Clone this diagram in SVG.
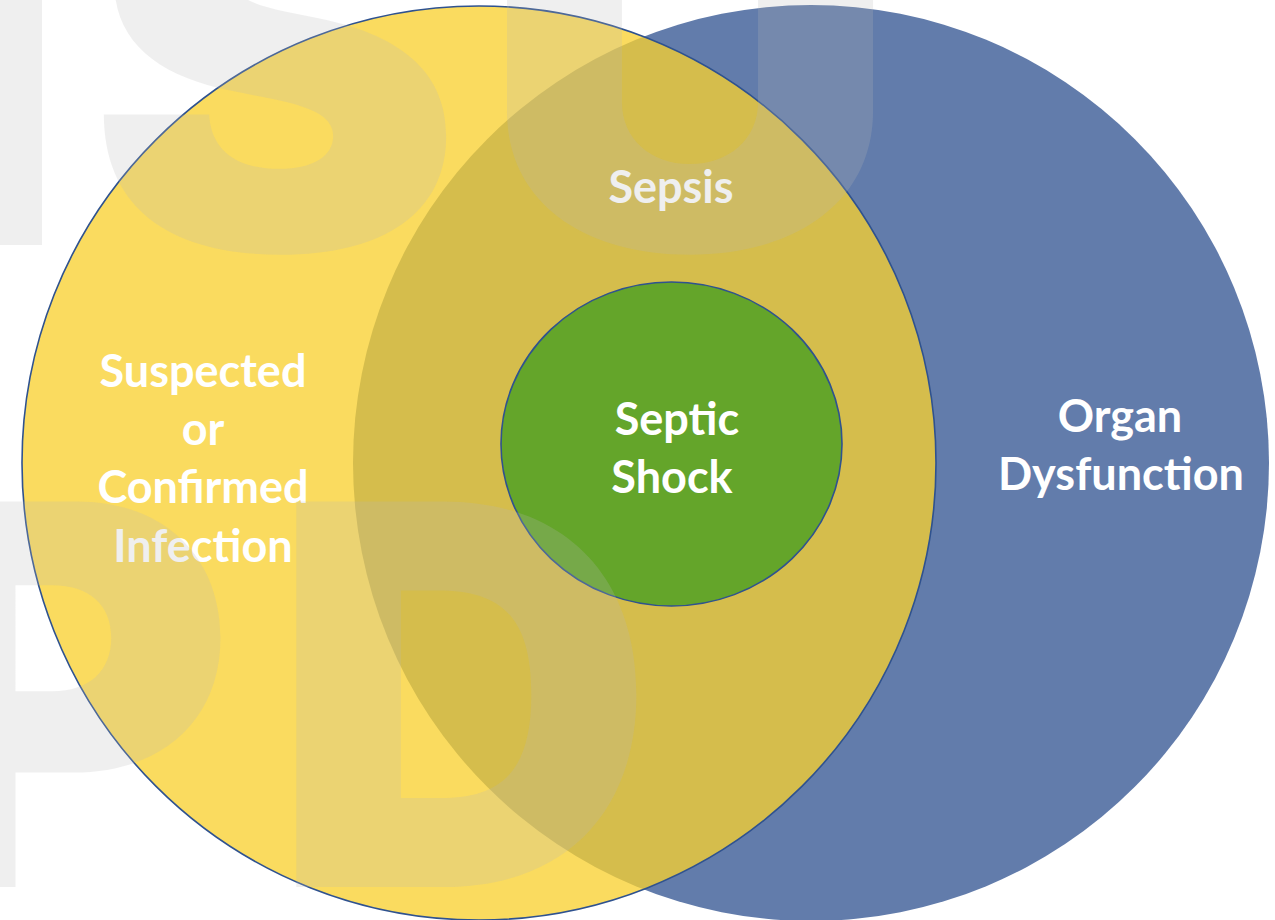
<svg xmlns="http://www.w3.org/2000/svg" width="1275" height="920" viewBox="0 0 1275 920">
<style>
.lbl{font-family:Lato,"Open Sans","Liberation Sans",sans-serif;font-weight:bold;font-size:45px;fill:#ffffff;text-anchor:middle}
.wm{font-family:Inter,"Open Sans","DejaVu Sans",sans-serif;font-weight:900;font-size:530px;fill:#b8b8b8;fill-opacity:0.225;text-anchor:middle}
</style>
<rect width="1275" height="920" fill="#ffffff"/>
<g id="organ-dysfunction">
<circle cx="811" cy="463" r="458" fill="#627cab"/>
</g>
<g id="infection">
<circle cx="479" cy="463" r="457" fill="#f8d02f" fill-opacity="0.77" stroke="#2f528f" stroke-width="1.6"/>
</g>
<g id="septic-shock">
<ellipse cx="671.5" cy="444" rx="170.5" ry="162" fill="#64a52a" stroke="#2f528f" stroke-width="1.6"/>
</g>
<g id="connectors"></g>
<g id="labels">
<g id="label-infection">
<text class="lbl" x="203" y="387">Suspected</text>
<text class="lbl" x="203" y="445">or</text>
<text class="lbl" x="203" y="503">Confirmed</text>
<text class="lbl" x="203" y="562">Infection</text>
</g>
<g id="label-sepsis"><text class="lbl" x="671" y="203">Sepsis</text></g>
<g id="label-shock">
<text class="lbl" x="677" y="435">Septic</text>
<text class="lbl" x="672" y="493">Shock</text>
</g>
<g id="label-organ">
<text class="lbl" x="1120" y="432">Organ</text>
<text class="lbl" x="1121" y="490">Dysfunction</text>
</g>
</g>
<g id="watermark">
<rect x="-10" y="-10" width="52" height="255" fill="#b8b8b8" fill-opacity="0.225"/>
<text class="wm" x="275" y="250" transform="translate(275,0) scale(1.06,1) translate(-275,0)">S</text>
<text class="wm" x="690" y="250" transform="translate(690,0) scale(1.1,1) translate(-690,0)">U</text>
<text class="wm" x="60" y="887">P</text>
<text class="wm" x="463" y="887">D</text>
</g>
</svg>
